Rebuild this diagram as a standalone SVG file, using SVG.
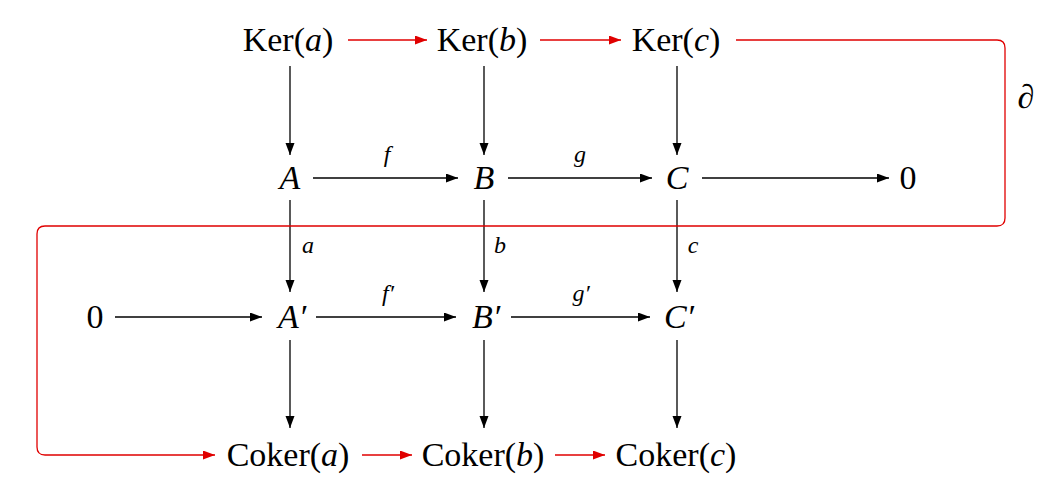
<svg xmlns="http://www.w3.org/2000/svg" width="1058" height="488" viewBox="0 0 1058 488">
<style>
.n{font-size:34px;fill:#000;text-anchor:middle}
.l{font-size:24px;font-style:italic;fill:#000;text-anchor:middle}
.i{font-style:italic}
.k{stroke:#000;stroke-width:1.3;fill:none}
.r{stroke:#e00000;stroke-width:1.3;fill:none}
</style>
<defs>
<marker id="ak" markerUnits="userSpaceOnUse" markerWidth="13" markerHeight="10" refX="12" refY="4.5" orient="auto"><path d="M0,0 L12,4.5 L0,9 z" fill="#000"/></marker>
<marker id="ar" markerUnits="userSpaceOnUse" markerWidth="13" markerHeight="10" refX="12" refY="4.5" orient="auto"><path d="M0,0 L12,4.5 L0,9 z" fill="#e00000"/></marker>
</defs>
<rect width="1058" height="488" fill="#fff"/>
<g id="connectors">
<line class="k" x1="290" y1="66" x2="290" y2="155" marker-end="url(#ak)"/>
<line class="k" x1="484" y1="66" x2="484" y2="155" marker-end="url(#ak)"/>
<line class="k" x1="677" y1="66" x2="677" y2="155" marker-end="url(#ak)"/>
<line class="k" x1="290" y1="200" x2="290" y2="292" marker-end="url(#ak)"/>
<line class="k" x1="484" y1="200" x2="484" y2="292" marker-end="url(#ak)"/>
<line class="k" x1="677" y1="200" x2="677" y2="292" marker-end="url(#ak)"/>
<line class="k" x1="290" y1="340" x2="290" y2="428" marker-end="url(#ak)"/>
<line class="k" x1="484" y1="340" x2="484" y2="428" marker-end="url(#ak)"/>
<line class="k" x1="677" y1="340" x2="677" y2="428" marker-end="url(#ak)"/>
<line class="k" x1="313" y1="178" x2="458" y2="178" marker-end="url(#ak)"/>
<line class="k" x1="508" y1="178" x2="652" y2="178" marker-end="url(#ak)"/>
<line class="k" x1="702" y1="178" x2="889" y2="178" marker-end="url(#ak)"/>
<line class="k" x1="115" y1="317" x2="262" y2="317" marker-end="url(#ak)"/>
<line class="k" x1="316" y1="317" x2="456" y2="317" marker-end="url(#ak)"/>
<line class="k" x1="511" y1="317" x2="650" y2="317" marker-end="url(#ak)"/>
<line class="r" x1="348" y1="40" x2="427" y2="40" marker-end="url(#ar)"/>
<line class="r" x1="540" y1="40" x2="621" y2="40" marker-end="url(#ar)"/>
<line class="r" x1="362" y1="455" x2="412" y2="455" marker-end="url(#ar)"/>
<line class="r" x1="555" y1="455" x2="605" y2="455" marker-end="url(#ar)"/>
<path class="r" d="M736,40 H997 Q1005,40 1005,48 V218 Q1005,226 997,226 H45 Q37,226 37,234 V447 Q37,455 45,455 H215" marker-end="url(#ar)"/>
<g font-family="Liberation Serif, serif">
<text class="l" x="387" y="162">f</text>
<text class="l" x="580" y="162">g</text>
<text class="l" x="308" y="253">a</text>
<text class="l" x="500" y="253">b</text>
<text class="l" x="693" y="253">c</text>
<text class="l" x="388" y="301">f′</text>
<text class="l" x="581" y="301">g′</text>
<text class="n" x="1026" y="108"><tspan class="i">∂</tspan></text>
</g>
</g>
<g font-family="Liberation Serif, serif">
<g id="kera"><text class="n" x="288" y="51">Ker(<tspan class="i">a</tspan>)</text></g>
<g id="kerb"><text class="n" x="482" y="51">Ker(<tspan class="i">b</tspan>)</text></g>
<g id="kerc"><text class="n" x="676" y="51">Ker(<tspan class="i">c</tspan>)</text></g>
<g id="A"><text class="n i" x="290" y="189">A</text></g>
<g id="B"><text class="n i" x="484" y="189">B</text></g>
<g id="C"><text class="n i" x="677" y="189">C</text></g>
<g id="zero1"><text class="n" x="908" y="189">0</text></g>
<g id="zero2"><text class="n" x="95" y="328">0</text></g>
<g id="Ap"><text class="n i" x="292" y="328">A′</text></g>
<g id="Bp"><text class="n i" x="486" y="328">B′</text></g>
<g id="Cp"><text class="n i" x="679" y="328">C′</text></g>
<g id="cokera"><text class="n" x="288" y="466">Coker(<tspan class="i">a</tspan>)</text></g>
<g id="cokerb"><text class="n" x="483" y="466">Coker(<tspan class="i">b</tspan>)</text></g>
<g id="cokerc"><text class="n" x="676" y="466">Coker(<tspan class="i">c</tspan>)</text></g>
</g>
</svg>
